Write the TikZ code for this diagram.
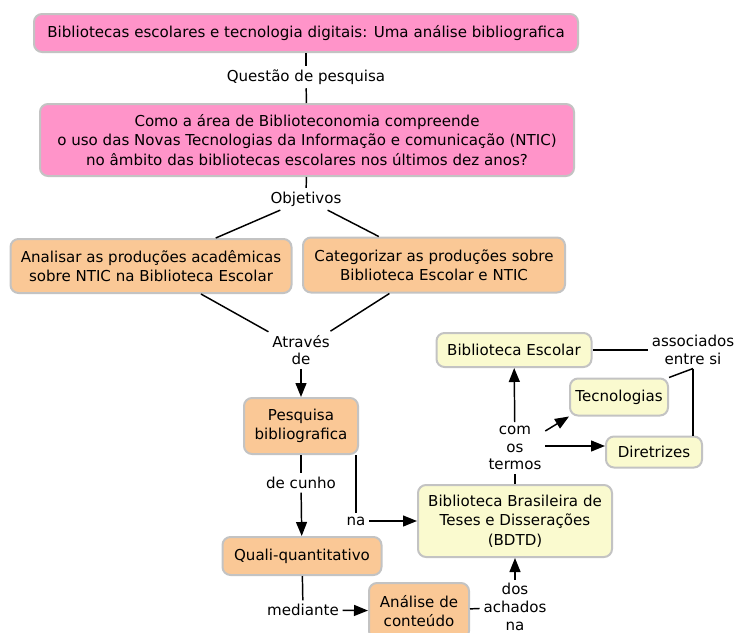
\documentclass[tikz,border=0pt]{standalone}
\usepackage{fontspec}
\setmainfont{DejaVu Sans}
\usetikzlibrary{arrows.meta,calc}

\definecolor{pinkbox}{RGB}{255,148,201}
\definecolor{orangebox}{RGB}{250,200,150}
\definecolor{creambox}{RGB}{250,250,207}
\definecolor{boxline}{RGB}{195,195,195}

\tikzset{every picture/.style={line width=0.75pt},
  concept/.style={draw=boxline, line width=1.5pt, rounded corners=6pt, align=center, inner sep=2pt,
    font=\fontsize{11.3}{14.6}\selectfont},
  pinkc/.style={concept, fill=pinkbox},
  orangec/.style={concept, fill=orangebox},
  creamc/.style={concept, fill=creambox},
  linkword/.style={align=center, inner sep=2.5pt, font=\fontsize{11.3}{13.3}\selectfont},
  link/.style={line width=1.1pt},
  linkarrow/.style={line width=1.1pt, -{Triangle[length=10.5pt,width=8.2pt]}}
}

\begin{document}
\begin{tikzpicture}[x=0.75pt,y=0.75pt,yscale=-1,xscale=1]
\useasboundingbox (0,0) rectangle (739,632);

% Concepts
\node [pinkc, minimum width=408pt, minimum height=28.5pt] (title) at (306,33) {Bibliotecas escolares e tecnologia digitais: Uma análise bibliografica};
\node [pinkc, minimum width=400.5pt, minimum height=54pt] (question) at (307,140) {Como a área de Biblioteconomia compreende\\o uso das Novas Tecnologias da Informação e comunicação (NTIC)\\no âmbito das bibliotecas escolares nos últimos dez anos?};
\node [orangec, minimum width=210.75pt, minimum height=40.5pt] (analisar) at (151,266) {Analisar as produções acadêmicas\\sobre NTIC na Biblioteca Escolar};
\node [orangec, minimum width=196.5pt, minimum height=41.25pt] (categ) at (434,265) {Categorizar as produções sobre\\Biblioteca Escolar e NTIC};
\node [orangec, minimum width=85.5pt, minimum height=42pt] (pesq) at (301,426) {Pesquisa\\bibliografica};
\node [orangec, minimum width=119.25pt, minimum height=28.5pt] (quali) at (302,556) {Quali-quantitativo};
\node [orangec, minimum width=75pt, minimum height=42pt] (analise) at (419,611) {Análise de\\conteúdo};
\node [creamc, minimum width=145.5pt, minimum height=54pt] (bdtd) at (515,521) {Biblioteca Brasileira de\\Teses e Disserações\\(BDTD)};
\node [creamc, minimum width=116.25pt, minimum height=25.5pt] (bibesc) at (514,350) {Biblioteca Escolar};
\node [creamc, minimum width=73.5pt, minimum height=27.75pt] (tecno) at (619,397) {Tecnologias};
\node [creamc, minimum width=72pt, minimum height=23.25pt] (diretr) at (654,452) {Diretrizes};

% Linking words
\node [linkword] (lquest) at (306,77) {Questão de pesquisa};
\node [linkword] (lobj) at (306,199) {Objetivos};
\node [linkword] (latraves) at (301,350) {Através\\de};
\node [linkword] (lcunho) at (301,483) {de cunho};
\node [linkword] (lna) at (356,521) {na};
\node [linkword] (lmed) at (303,610) {mediante};
\node [linkword] (ldos) at (515,607) {dos\\achados\\na};
\node [linkword] (lcom) at (515,448) {com\\os\\termos};
\node [linkword] (lassoc) at (693,350) {associados\\entre si};

% Connectors
\draw [link] (title) -- (lquest);
\draw [link] (lquest) -- (question);
\draw [link] (question) -- (lobj);
\draw [link] (lobj) -- (analisar);
\draw [link] (lobj) -- (categ);
\draw [link] (analisar) -- (latraves);
\draw [link] (categ) -- (latraves);
\draw [linkarrow] (latraves) -- (pesq);
\draw [link] (pesq) -- (lcunho);
\draw [linkarrow] (lcunho) -- (quali);
\draw [link] (lna |- pesq.south) -- (lna);
\draw [linkarrow] (lna) -- (bdtd);
\draw [link] (quali) -- (lmed);
\draw [linkarrow] (lmed) -- (analise);
\draw [link] (analise) -- (ldos);
\draw [linkarrow] (ldos) -- (bdtd);
\draw [link] (bdtd) -- (lcom);
\draw [linkarrow] (lcom) -- (bibesc);
\draw [linkarrow] ($(lcom.east)+(0,-17)$) -- (tecno.south west);
\draw [linkarrow] ($(lcom.east)+(0,-2)$) -- (diretr.west |- {$(lcom.east)+(0,-2)$});
\draw [link] (bibesc) -- (lassoc);
\draw [link] (lassoc.south) -- (tecno.north east);
\draw [link] (lassoc.south) -- (lassoc.south |- diretr.north);

\end{tikzpicture}
\end{document}
